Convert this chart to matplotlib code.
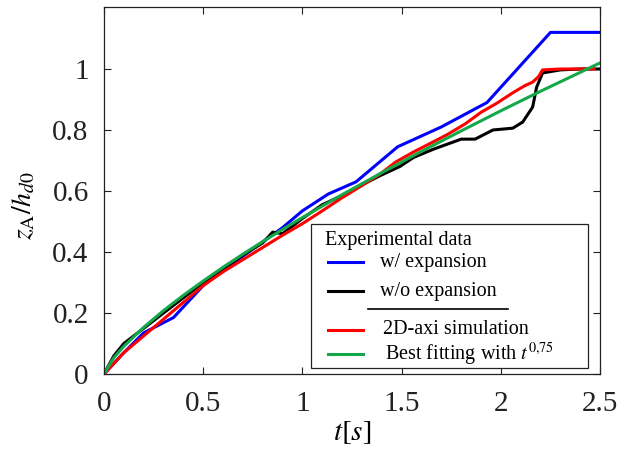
import matplotlib.pyplot as plt
from matplotlib.patches import Rectangle

# w/ expansion (blue)
t_blue = [0, 0.1, 0.2, 0.35, 0.5, 0.6, 0.75, 0.9, 1.0, 1.13, 1.27, 1.48, 1.7, 1.93, 2.25, 2.5]
z_blue = [0, 0.07, 0.135, 0.185, 0.29, 0.34, 0.41, 0.48, 0.535, 0.59, 0.63, 0.745, 0.81, 0.89, 1.12, 1.12]

# w/o expansion (black)
t_black = [0, 0.05, 0.1, 0.2, 0.3, 0.4, 0.5, 0.6, 0.7, 0.8, 0.85, 0.9, 1.0, 1.1, 1.2,
           1.3, 1.39, 1.49, 1.56, 1.66, 1.8, 1.87, 1.96, 2.06, 2.11, 2.16, 2.18, 2.21,
           2.3, 2.4, 2.5]
z_black = [0, 0.06, 0.1, 0.15, 0.2, 0.25, 0.3, 0.345, 0.39, 0.43, 0.465, 0.46, 0.51,
           0.555, 0.585, 0.62, 0.65, 0.68, 0.71, 0.737, 0.77, 0.77, 0.80, 0.806, 0.826,
           0.875, 0.94, 0.987, 0.997, 1.0, 1.0]

# 2D-axi simulation (red)
t_red = [0, 0.1, 0.2, 0.3, 0.4, 0.5, 0.6, 0.7, 0.8, 0.9, 1.0, 1.1, 1.2, 1.3, 1.39,
         1.47, 1.56, 1.65, 1.73, 1.82, 1.90, 1.98, 2.06, 2.12, 2.16, 2.19, 2.21, 2.3,
         2.4, 2.47]
z_red = [0, 0.07, 0.125, 0.18, 0.235, 0.29, 0.335, 0.375, 0.415, 0.455, 0.493, 0.535,
         0.578, 0.618, 0.655, 0.695, 0.728, 0.758, 0.785, 0.82, 0.858, 0.888, 0.922,
         0.945, 0.957, 0.975, 0.997, 1.0, 1.0, 1.0]

# best fitting t^0.75 (green)
t_green = [0, 0.05, 0.1, 0.2, 0.3, 0.4, 0.5, 0.6, 0.7, 0.8, 0.9, 1.0, 1.2, 1.4, 1.6,
           1.8, 2.0, 2.2, 2.4, 2.5]
z_green = [0, 0.054, 0.091, 0.153, 0.208, 0.258, 0.305, 0.350, 0.393, 0.434, 0.474,
           0.513, 0.588, 0.660, 0.730, 0.797, 0.863, 0.927, 0.989, 1.02]

x_ticks = [0, 0.5, 1, 1.5, 2, 2.5]
x_ticklabels = ["0", "0.5", "1", "1.5", "2", "2.5"]
y_ticks = [0, 0.2, 0.4, 0.6, 0.8, 1]
y_ticklabels = ["0", "0.2", "0.4", "0.6", "0.8", "1"]

plt.rcParams["font.family"] = ["Liberation Serif", "DejaVu Serif"]
plt.rcParams["mathtext.fontset"] = "stix"

fig = plt.figure(figsize=(6.17, 4.53), dpi=100)
ax = fig.add_axes([0.1686, 0.1744, 0.804, 0.810])

lw = 2.2
ax.plot(t_blue, z_blue, color="#0000ff", lw=lw)
ax.plot(t_black, z_black, color="black", lw=lw)
ax.plot(t_red, z_red, color="#ff0000", lw=lw)
ax.plot(t_green, z_green, color="#14a84a", lw=lw)

ax.set_xlim(0, 2.5)
ax.set_ylim(0, 1.203)
ax.set_xticks(x_ticks)
ax.set_xticklabels(x_ticklabels)
ax.set_yticks(y_ticks)
ax.set_yticklabels(y_ticklabels)
ax.tick_params(direction="in", length=5, width=0.8, top=True, right=True,
               labelsize=21, colors="#222222")
ax.tick_params(axis="x", pad=12)
ax.tick_params(axis="y", pad=11)
for s in ax.spines.values():
    s.set_linewidth(0.9)
    s.set_color("#222222")

ax.set_xlabel(r"$t[s]$", fontsize=21, labelpad=2)
ax.set_ylabel(r"$z_{\mathrm{A}}/h_{d0}$", fontsize=20)
ax.yaxis.set_label_coords(-0.135, 0.46)

# Legend box drawn by hand
ax.add_patch(Rectangle((0.417, 0.016), 0.559, 0.393, transform=ax.transAxes,
                       facecolor="white", edgecolor="#222222", lw=0.9, zorder=5))
ax.text(0.446, 0.365, "Experimental data", transform=ax.transAxes, fontsize=14.5,
        va="center", ha="left", zorder=6)
entries = [
    ("#0000ff", "w/ expansion", 0.305, 0.556),
    ("black", "w/o expansion", 0.226, 0.556),
    ("#ff0000", "2D-axi simulation", 0.120, 0.5625),
    ("#14a84a", r"Best fitting with $t^{0{,}75}$", 0.054, 0.567),
]
for color, label, y, xt in entries:
    ax.plot([0.452, 0.522], [y, y], color=color, lw=lw, transform=ax.transAxes, zorder=6)
    ax.text(xt, y, label, transform=ax.transAxes, fontsize=14.5, va="center",
            ha="left", zorder=6)
ax.plot([0.532, 0.815], [0.177, 0.177], color="black", lw=1.2,
        transform=ax.transAxes, zorder=6)

fig.savefig("out.png", dpi=100)
